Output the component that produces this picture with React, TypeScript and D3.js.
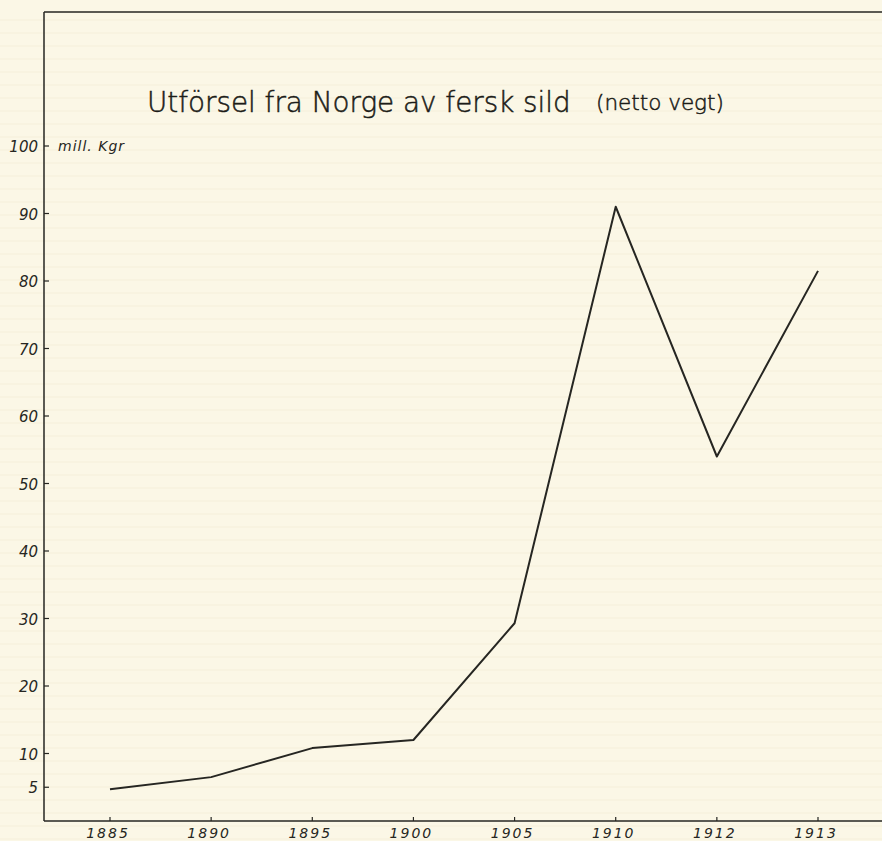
import React, { useEffect, useRef } from 'react';
import * as d3 from 'd3';

// years on the axis (not evenly spaced in time, drawn evenly)
const years = ['1885', '1890', '1895', '1900', '1905', '1910', '1912', '1913'];
// export of fresh herring, million kg
const exportMillKg = [4.7, 6.5, 10.8, 12.0, 29.3, 91.0, 54.0, 81.5];
const yTicks = [5, 10, 20, 30, 40, 50, 60, 70, 80, 90, 100];

const titleMain = 'Utförsel fra Norge av fersk sild';
const titleSub = '(netto vegt)';
const unitLabel = 'mill. Kgr';

const App = () => {
  const svgRef = useRef<SVGSVGElement | null>(null);
  const width = 882;
  const height = 841;

  useEffect(() => {
    const svg = d3.select(svgRef.current);
    svg.selectAll('*').remove();

    const left = 44;
    const top = 12;
    const bottom = 821;

    const x = d3.scalePoint<string>().domain(years).range([110, 818]).padding(0);
    const y = d3.scaleLinear().domain([0, 100]).range([bottom, 146]);

    const ink = '#262622';

    // paper
    svg.append('rect')
      .attr('width', width)
      .attr('height', height)
      .attr('fill', '#fbf7e6');

    // faint ruling of the paper
    const rules = d3.range(20, height, 13);
    svg.append('g')
      .selectAll('line')
      .data(rules)
      .enter().append('line')
      .attr('x1', 0)
      .attr('x2', width)
      .attr('y1', d => d)
      .attr('y2', d => d)
      .attr('stroke', '#f5efda')
      .attr('stroke-width', 1);

    // frame: top line, left axis, bottom axis
    svg.append('line')
      .attr('x1', left).attr('x2', width)
      .attr('y1', top).attr('y2', top)
      .attr('stroke', ink).attr('stroke-width', 1.5);
    svg.append('line')
      .attr('x1', left).attr('x2', left)
      .attr('y1', top).attr('y2', bottom)
      .attr('stroke', ink).attr('stroke-width', 1.5);
    svg.append('line')
      .attr('x1', left).attr('x2', width)
      .attr('y1', bottom).attr('y2', bottom)
      .attr('stroke', ink).attr('stroke-width', 1.5);

    // y ticks
    const yg = svg.append('g');
    yg.selectAll('line')
      .data(yTicks)
      .enter().append('line')
      .attr('x1', left).attr('x2', left + 5)
      .attr('y1', d => y(d)).attr('y2', d => y(d))
      .attr('stroke', ink).attr('stroke-width', 1.2);
    yg.selectAll('text')
      .data(yTicks)
      .enter().append('text')
      .attr('x', left - 6)
      .attr('y', d => y(d) + 6)
      .attr('text-anchor', 'end')
      .style('font-family', 'DejaVu Sans')
      .style('font-style', 'italic')
      .style('font-size', '15px')
      .style('fill', ink)
      .text(d => d);

    svg.append('text')
      .attr('x', 58)
      .attr('y', y(100) + 5)
      .style('font-family', 'DejaVu Sans')
      .style('font-style', 'italic')
      .style('font-size', '14px')
      .style('letter-spacing', '1px')
      .style('fill', ink)
      .text(unitLabel);

    // x ticks
    const xg = svg.append('g');
    xg.selectAll('line')
      .data(years)
      .enter().append('line')
      .attr('x1', d => x(d)!).attr('x2', d => x(d)!)
      .attr('y1', bottom).attr('y2', bottom - 4)
      .attr('stroke', ink).attr('stroke-width', 1.2);
    xg.selectAll('text')
      .data(years)
      .enter().append('text')
      .attr('x', d => x(d)! - 2)
      .attr('y', 838)
      .attr('text-anchor', 'middle')
      .style('font-family', 'DejaVu Sans')
      .style('font-style', 'italic')
      .style('font-size', '14px')
      .style('letter-spacing', '2px')
      .style('fill', ink)
      .text(d => d);

    // title: size each part so its natural width fits the drawn one
    const fitText = (str: string, x0: number, y0: number, w: number, size: number) => {
      const t = svg.append('text')
        .attr('x', x0)
        .attr('y', y0)
        .style('font-family', 'DejaVu Sans')
        .style('font-weight', 200)
        .style('font-size', `${size}px`)
        .style('fill', '#1c1c18')
        .style('stroke', '#1c1c18')
        .style('stroke-width', 0.5)
        .text(str);
      const len = (t.node() as SVGTextElement).getComputedTextLength();
      if (len > 0) t.style('font-size', `${(size * w) / len}px`);
    };
    fitText(titleMain, 147, 112, 424, 31);
    fitText(titleSub, 596, 110, 128, 21);

    // data line
    const line = d3.line<number>()
      .x((d, i) => x(years[i])!)
      .y(d => y(d));

    svg.append('path')
      .datum(exportMillKg)
      .attr('fill', 'none')
      .attr('stroke', ink)
      .attr('stroke-width', 2)
      .attr('stroke-linejoin', 'round')
      .attr('d', line);
  }, []);

  return (
    <svg
      ref={svgRef}
      width={width}
      height={height}
      style={{ position: 'absolute', left: 0, top: 0 }}
    />
  );
};

export default App;
